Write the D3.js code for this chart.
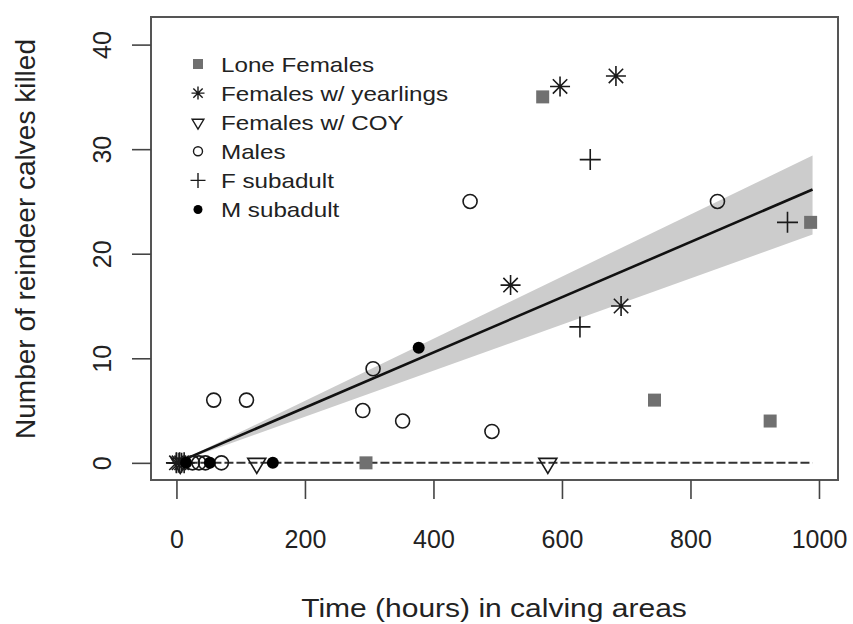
<!DOCTYPE html>
<html lang="en">
<head>
    <meta charset="UTF-8">
    <title>Reindeer calves killed vs time</title>
    <script src="https://cdn.jsdelivr.net/npm/d3@7/dist/d3.min.js"></script>
    <style>
        body { margin: 0; background: #fff; }
        svg { display: block; font-family: "Liberation Sans", Arial, sans-serif; }
    </style>
</head>
<body>
<script>
    // chart size
    const width = 853;
    const height = 624;

    // data (hours, calves killed)
    const loneX = [295, 570, 744, 924, 987];
    const loneY = [0, 35, 6, 4, 23];
    const yearlingX = [0, 4, 8, 520, 597, 684, 692];
    const yearlingY = [0, 0, 0, 17, 36, 37, 15];
    const coyX = [6, 125, 578];
    const coyY = [0, 0, 0];
    const maleX = [25, 35, 45, 58, 70, 109, 290, 306, 352, 457, 491, 842];
    const maleY = [0, 0, 0, 6, 0, 6, 5, 9, 4, 25, 3, 25];
    const fSubX = [0, 5, 12, 628, 644, 951];
    const fSubY = [0, 0, 0, 13, 29, 23];
    const mSubX = [15, 52, 150, 377];
    const mSubY = [0, 0, 0, 11];

    // fitted line through origin and its confidence band (slopes)
    const fitRange = [0, 990];
    const fitSlope = [0.0264];
    const bandSlopes = [0.02205, 0.02969];
    const flatRange = [0, 990];

    const seriesNames = ['Lone Females', 'Females w/ yearlings', 'Females w/ COY',
        'Males', 'F subadult', 'M subadult'];
    const xTicks = [0, 200, 400, 600, 800, 1000];
    const yTicks = [0, 10, 20, 30, 40];
    const xTitle = 'Time (hours) in calving areas';
    const yTitle = 'Number of reindeer calves killed';

    const box = {left: 151, right: 838, top: 17, bottom: 480};

    const x = d3.scaleLinear().domain([-39.6, 1029.6]).range([box.left, box.right]);
    const y = d3.scaleLinear().domain([-1.64, 42.64]).range([box.bottom, box.top]);

    const svg = d3.select('body').append('svg')
        .attr('width', width)
        .attr('height', height);

    // symbol shapes, s = size factor
    function symbolPath(type, s) {
        const p = d3.path();
        if (type === 'square') {
            p.rect(-s, -s, 2 * s, 2 * s);
        } else if (type === 'plus' || type === 'star') {
            p.moveTo(-s, 0); p.lineTo(s, 0);
            p.moveTo(0, -s); p.lineTo(0, s);
            if (type === 'star') {
                const d = s * 0.72;
                p.moveTo(-d, -d); p.lineTo(d, d);
                p.moveTo(-d, d); p.lineTo(d, -d);
            }
        } else if (type === 'triangle') {
            p.moveTo(-s * 0.9, -s * 0.45);
            p.lineTo(s * 0.9, -s * 0.45);
            p.lineTo(0, s * 1.05);
            p.closePath();
        } else {
            p.arc(0, 0, s, 0, 2 * Math.PI);
        }
        return p.toString();
    }

    const styles = [
        {type: 'square', fill: '#707070', stroke: 'none', size: 6.5, legSize: 5},
        {type: 'star', fill: 'none', stroke: '#1a1a1a', size: 10, legSize: 6.5},
        {type: 'triangle', fill: 'none', stroke: '#1a1a1a', size: 10, legSize: 6.5},
        {type: 'circle', fill: 'none', stroke: '#1a1a1a', size: 7, legSize: 4.5},
        {type: 'plus', fill: 'none', stroke: '#1a1a1a', size: 10.5, legSize: 7.5},
        {type: 'circle', fill: '#000', stroke: 'none', size: 6, legSize: 4.5}
    ];

    const series = [
        [loneX, loneY], [yearlingX, yearlingY], [coyX, coyY],
        [maleX, maleY], [fSubX, fSubY], [mSubX, mSubY]
    ].map((s, i) => ({
        name: seriesNames[i],
        style: styles[i],
        points: s[0].map((v, j) => ({x: v, y: s[1][j]}))
    }));

    // confidence band
    const band = d3.area()
        .x(d => x(d))
        .y0(d => y(d * bandSlopes[0]))
        .y1(d => y(d * bandSlopes[1]));
    svg.append('path')
        .datum(fitRange)
        .attr('d', band)
        .attr('fill', '#cccccc');

    // flat fit at zero (dashed)
    svg.append('line')
        .attr('x1', x(flatRange[0])).attr('x2', x(flatRange[1]))
        .attr('y1', y(0)).attr('y2', y(0))
        .attr('stroke', '#333')
        .attr('stroke-width', 2)
        .attr('stroke-dasharray', '9,3');

    // regression line
    svg.append('path')
        .datum(fitRange)
        .attr('d', d3.line().x(d => x(d)).y(d => y(d * fitSlope[0])))
        .attr('stroke', '#111')
        .attr('stroke-width', 2.6)
        .attr('fill', 'none');

    // points
    series.forEach(s => {
        svg.append('g')
            .selectAll('path')
            .data(s.points)
            .join('path')
            .attr('transform', d => `translate(${x(d.x)},${y(d.y)})`)
            .attr('d', symbolPath(s.style.type, s.style.size))
            .attr('fill', s.style.fill)
            .attr('stroke', s.style.stroke)
            .attr('stroke-width', 1.6);
    });

    // box
    svg.append('rect')
        .attr('x', box.left).attr('y', box.top)
        .attr('width', box.right - box.left).attr('height', box.bottom - box.top)
        .attr('fill', 'none')
        .attr('stroke', '#555')
        .attr('stroke-width', 2);

    // axes, R style
    const xAxis = svg.append('g')
        .attr('transform', `translate(0,${box.bottom})`)
        .call(d3.axisBottom(x).tickValues(xTicks).tickSize(19).tickPadding(31).tickFormat(d3.format('d')));
    const yAxis = svg.append('g')
        .attr('transform', `translate(${box.left},0)`)
        .call(d3.axisLeft(y).tickValues(yTicks).tickSize(19).tickFormat(d3.format('d')));
    [xAxis, yAxis].forEach(a => {
        a.select('.domain').remove();
        a.selectAll('line').attr('stroke', '#444').attr('stroke-width', 1.6);
        a.selectAll('text').attr('fill', '#222').attr('font-size', 25)
            .attr('font-family', '"Liberation Sans", Arial, sans-serif');
    });
    yAxis.selectAll('text')
        .attr('x', null).attr('dy', null)
        .attr('text-anchor', 'middle')
        .attr('transform', 'translate(-40,0) rotate(-90)');

    // axis titles
    svg.append('text')
        .attr('transform', 'translate(494,617) scale(1.2,1)')
        .attr('text-anchor', 'middle')
        .attr('font-size', 25)
        .attr('fill', '#222')
        .text(xTitle);
    svg.append('text')
        .attr('transform', 'translate(35,239) rotate(-90)')
        .attr('text-anchor', 'middle')
        .attr('font-size', 28)
        .attr('fill', '#222')
        .text(yTitle);

    // legend
    const legend = svg.append('g').attr('transform', 'translate(198,64)');
    const rows = legend.selectAll('g')
        .data(series)
        .join('g')
        .attr('transform', (d, i) => `translate(0,${i * 29.1})`);
    rows.append('path')
        .attr('d', d => symbolPath(d.style.type, d.style.legSize))
        .attr('fill', d => d.style.fill)
        .attr('stroke', d => d.style.stroke)
        .attr('stroke-width', 1.4);
    rows.append('text')
        .attr('transform', 'translate(23,7.5) scale(1.18,1)')
        .attr('font-size', 20.5)
        .attr('fill', '#222')
        .text(d => d.name);
</script>
</body>
</html>
